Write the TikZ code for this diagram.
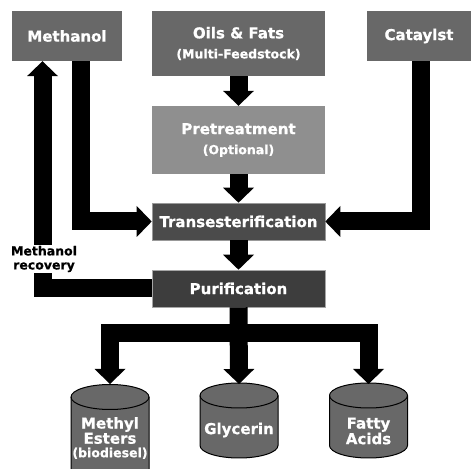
\documentclass[tikz,border=0pt]{standalone}
\usepackage{fontspec}
\setmainfont{DejaVu Sans}[BoldFeatures={FakeBold=0.8}]
\usetikzlibrary{arrows.meta}
\definecolor{boxA}{HTML}{686868}
\definecolor{boxB}{HTML}{8F8F8F}
\definecolor{boxC}{HTML}{4B4B4B}
\definecolor{boxD}{HTML}{3D3D3D}
\definecolor{cylC}{HTML}{686868}
\newcommand\drawcyl[3]{%
  \path[cylbody] ({#1-39},#2) -- ({#1-39},#3) arc[start angle=180,end angle=360,x radius=39,y radius=12.5] -- ({#1+39},#2) arc[start angle=0,end angle=180,x radius=39,y radius=12.5] -- cycle;
  \draw[cylline] ({#1-39},#2) arc[start angle=180,end angle=360,x radius=39,y radius=12.5];
}
\tikzset{
  box/.style={rectangle, inner sep=0pt, text=white, align=center,
    font=\bfseries\fontsize{15}{18}\selectfont},
  arr/.style={line width=18pt, black,
    -{Triangle[length=15pt,width=31pt,line width=0pt]}},
  cylbody/.style={fill=cylC, draw=black, line width=1pt},
  cylline/.style={draw=black, line width=1pt},
  cyltext/.style={text=white, align=center, inner sep=0pt,
    font=\bfseries\fontsize{15}{13.5}\selectfont},
  reclabel/.style={fill=white, align=center, inner sep=1pt,
    font=\bfseries\fontsize{12.5}{14}\selectfont}
}
\begin{document}
\begin{tikzpicture}[x=1pt,y=1pt]
\useasboundingbox[fill=white] (0,0) rectangle (472,469);
% boxes
\node[box, fill=boxA, minimum width=110pt, minimum height=50pt] (meth) at (67,433) {Methanol};
\node[box, fill=boxA, minimum width=173pt, minimum height=65pt] (oils) at (238.5,425.5)
  {\raisebox{0pt}[0pt][0pt]{}Oils \& Fats\\[2pt]{\fontsize{12.5}{15}\selectfont (Multi-Feedstock)}};
\node[box, fill=boxA, minimum width=104pt, minimum height=50pt] (cat) at (419,433) {Cataylst};
\node[box, fill=boxB, minimum width=173pt, minimum height=68pt] (pre) at (238.5,329)
  {Pretreatment\\[2pt]{\fontsize{12.5}{15}\selectfont (Optional)}};
\node[box, fill=boxC, draw=gray!80, line width=0.6pt, minimum width=173pt, minimum height=37pt] (trans) at (238.5,247.5) {Transesterification};
\node[box, fill=boxD, draw=gray!70, line width=0.6pt, minimum width=173pt, minimum height=37pt] (pur) at (238.5,180.5) {Purification};
% cylinders
\drawcyl{110}{72}{-8}
\drawcyl{239}{73.5}{23.5}
\drawcyl{368.5}{73.5}{23.5}
\node[cyltext] (mest) at (110,31) {Methyl\\Esters\\{\fontsize{12.5}{13}\selectfont(biodiesel)}};
\node[cyltext] (glyc) at (239,39) {Glycerin};
\node[cyltext] (fatty) at (368.5,38) {Fatty\\Acids};
\coordinate (mtop) at (110,85);
\coordinate (gtop) at (239,85);
\coordinate (ftop) at (368.5,85);
\coordinate (split) at (239,135.5);
% connectors
\draw[arr] (oils) -- (pre);
\draw[arr] (pre) -- (trans);
\draw[arr] (trans) -- (pur);
\draw[arr] ([xshift=14pt]meth.south) |- (trans.west);
\draw[arr] ([xshift=2pt]cat.south) |- (trans.east);
\draw[arr] (pur.west) -| ([xshift=-24.5pt]meth.south);
\draw[arr] (pur.south) -- (gtop);
\draw[arr] (split) -| (mtop);
\draw[arr] (split) -| (ftop);
\node[reclabel] (rec) at (44,210) {Methanol\\recovery};
\end{tikzpicture}
\end{document}
